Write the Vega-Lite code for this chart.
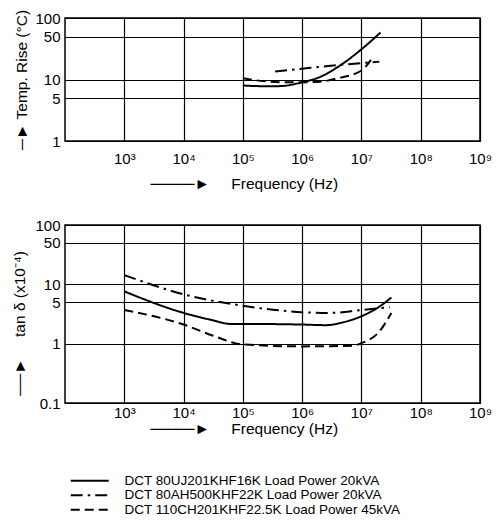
{
  "$schema": "https://vega.github.io/schema/vega-lite/v6.json",
  "background": "white",
  "padding": {"left": 12, "top": 8, "right": 10, "bottom": 5},
  "config": {
    "font": "Liberation Sans",
    "view": {"stroke": "black", "strokeWidth": 1.5},
    "axis": {
      "domain": false, "ticks": false, "grid": true, "gridColor": "black", "gridOpacity": 1, "gridWidth": 1.2,
      "labelFont": "Liberation Sans", "labelFontSize": 15, "labelColor": "black",
      "titleFont": "Liberation Sans", "titleFontSize": 15.5, "titleFontWeight": "normal", "titleColor": "black"
    },
    "legend": {"labelFont": "Liberation Sans", "labelFontSize": 13.5, "labelColor": "black"}
  },
  "datasets": {
    "temp": [
      {"series": "DCT 80UJ201KHF16K Load Power 20kVA", "f": 100000, "v": 8.0},
      {"series": "DCT 80UJ201KHF16K Load Power 20kVA", "f": 200000, "v": 7.8},
      {"series": "DCT 80UJ201KHF16K Load Power 20kVA", "f": 400000, "v": 7.8},
      {"series": "DCT 80UJ201KHF16K Load Power 20kVA", "f": 1000000, "v": 9},
      {"series": "DCT 80UJ201KHF16K Load Power 20kVA", "f": 2000000, "v": 11},
      {"series": "DCT 80UJ201KHF16K Load Power 20kVA", "f": 4000000, "v": 16},
      {"series": "DCT 80UJ201KHF16K Load Power 20kVA", "f": 6000000, "v": 21},
      {"series": "DCT 80UJ201KHF16K Load Power 20kVA", "f": 10000000, "v": 31},
      {"series": "DCT 80UJ201KHF16K Load Power 20kVA", "f": 21000000, "v": 58},
      {"series": "DCT 80AH500KHF22K Load Power 20kVA", "f": 350000, "v": 13.5},
      {"series": "DCT 80AH500KHF22K Load Power 20kVA", "f": 1000000, "v": 15},
      {"series": "DCT 80AH500KHF22K Load Power 20kVA", "f": 5000000, "v": 17.5},
      {"series": "DCT 80AH500KHF22K Load Power 20kVA", "f": 20000000, "v": 19.5},
      {"series": "DCT 110CH201KHF22.5K Load Power 45kVA", "f": 100000, "v": 10.5},
      {"series": "DCT 110CH201KHF22.5K Load Power 45kVA", "f": 200000, "v": 9.5},
      {"series": "DCT 110CH201KHF22.5K Load Power 45kVA", "f": 500000, "v": 9},
      {"series": "DCT 110CH201KHF22.5K Load Power 45kVA", "f": 1000000, "v": 9},
      {"series": "DCT 110CH201KHF22.5K Load Power 45kVA", "f": 2000000, "v": 9.2},
      {"series": "DCT 110CH201KHF22.5K Load Power 45kVA", "f": 4000000, "v": 10.5},
      {"series": "DCT 110CH201KHF22.5K Load Power 45kVA", "f": 10000000, "v": 14},
      {"series": "DCT 110CH201KHF22.5K Load Power 45kVA", "f": 16000000, "v": 24}
    ],
    "tan": [
      {"series": "DCT 80UJ201KHF16K Load Power 20kVA", "f": 1000, "v": 7.6},
      {"series": "DCT 80UJ201KHF16K Load Power 20kVA", "f": 10000, "v": 3.3},
      {"series": "DCT 80UJ201KHF16K Load Power 20kVA", "f": 30000, "v": 2.5},
      {"series": "DCT 80UJ201KHF16K Load Power 20kVA", "f": 63000, "v": 2.15},
      {"series": "DCT 80UJ201KHF16K Load Power 20kVA", "f": 100000, "v": 2.15},
      {"series": "DCT 80UJ201KHF16K Load Power 20kVA", "f": 1000000, "v": 2.1},
      {"series": "DCT 80UJ201KHF16K Load Power 20kVA", "f": 2500000, "v": 2.05},
      {"series": "DCT 80UJ201KHF16K Load Power 20kVA", "f": 5000000, "v": 2.3},
      {"series": "DCT 80UJ201KHF16K Load Power 20kVA", "f": 10000000, "v": 2.9},
      {"series": "DCT 80UJ201KHF16K Load Power 20kVA", "f": 20000000, "v": 4.2},
      {"series": "DCT 80UJ201KHF16K Load Power 20kVA", "f": 32000000, "v": 6.0},
      {"series": "DCT 80AH500KHF22K Load Power 20kVA", "f": 1000, "v": 14.3},
      {"series": "DCT 80AH500KHF22K Load Power 20kVA", "f": 10000, "v": 6.8},
      {"series": "DCT 80AH500KHF22K Load Power 20kVA", "f": 100000, "v": 4.35},
      {"series": "DCT 80AH500KHF22K Load Power 20kVA", "f": 1000000, "v": 3.4},
      {"series": "DCT 80AH500KHF22K Load Power 20kVA", "f": 3000000, "v": 3.3},
      {"series": "DCT 80AH500KHF22K Load Power 20kVA", "f": 10000000, "v": 3.7},
      {"series": "DCT 80AH500KHF22K Load Power 20kVA", "f": 30000000, "v": 4.1},
      {"series": "DCT 110CH201KHF22.5K Load Power 45kVA", "f": 1000, "v": 3.7},
      {"series": "DCT 110CH201KHF22.5K Load Power 45kVA", "f": 10000, "v": 2.1},
      {"series": "DCT 110CH201KHF22.5K Load Power 45kVA", "f": 31600, "v": 1.36},
      {"series": "DCT 110CH201KHF22.5K Load Power 45kVA", "f": 100000, "v": 0.97},
      {"series": "DCT 110CH201KHF22.5K Load Power 45kVA", "f": 1000000, "v": 0.9},
      {"series": "DCT 110CH201KHF22.5K Load Power 45kVA", "f": 7000000, "v": 0.92},
      {"series": "DCT 110CH201KHF22.5K Load Power 45kVA", "f": 10000000, "v": 1.02},
      {"series": "DCT 110CH201KHF22.5K Load Power 45kVA", "f": 20000000, "v": 1.6},
      {"series": "DCT 110CH201KHF22.5K Load Power 45kVA", "f": 32000000, "v": 3.3}
    ]
  },
  "spacing": 24,
  "vconcat": [
    {
      "width": 415, "height": 123,
      "data": {"name": "temp"},
      "mark": {"type": "line", "color": "black", "strokeWidth": 2, "interpolate": "monotone"},
      "encoding": {
        "x": {"field": "f", "type": "quantitative", "scale": {"type": "log", "domain": [100, 1000000000], "nice": false},
          "axis": {"values": [1000, 10000, 100000, 1000000, 10000000, 100000000, 1000000000],
            "labelExpr": "'10' + ['⁰','¹','²','³','⁴','⁵','⁶','⁷','⁸','⁹'][round(log(datum.value)/LN10)]",
            "labelPadding": 10, "labelFlush": false,
            "title": "────►\u00a0\u00a0\u00a0\u00a0\u00a0Frequency (Hz)", "titleAnchor": "start", "titleX": 85, "titleAlign": "left", "titlePadding": 10}},
        "y": {"field": "v", "type": "quantitative", "scale": {"type": "log", "domain": [1, 100], "nice": false},
          "axis": {"values": [1, 5, 10, 50, 100], "labelPadding": 5, "labelFlush": false, "title": "─►\u00a0Temp. Rise (°C)", "titlePadding": 5}},
        "strokeDash": {"field": "series", "type": "nominal",
          "scale": {"domain": ["DCT 80UJ201KHF16K Load Power 20kVA", "DCT 80AH500KHF22K Load Power 20kVA", "DCT 110CH201KHF22.5K Load Power 45kVA"],
            "range": [[1, 0], [12, 5, 2.5, 5], [9, 5]]},
          "legend": {"title": null, "orient": "none", "legendX": 18, "legendY": 456, "symbolType": "M-3.8,0H3.8", "symbolSize": 100, "symbolStrokeWidth": 2, "symbolStrokeColor": "black", "symbolFillColor": "transparent", "labelOffset": 28, "rowPadding": -0.5, "labelLimit": 0}}
      }
    },
    {
      "width": 415, "height": 178,
      "data": {"name": "tan"},
      "mark": {"type": "line", "color": "black", "strokeWidth": 2, "interpolate": "monotone"},
      "encoding": {
        "x": {"field": "f", "type": "quantitative", "scale": {"type": "log", "domain": [100, 1000000000], "nice": false},
          "axis": {"values": [1000, 10000, 100000, 1000000, 10000000, 100000000, 1000000000],
            "labelExpr": "'10' + ['⁰','¹','²','³','⁴','⁵','⁶','⁷','⁸','⁹'][round(log(datum.value)/LN10)]",
            "labelPadding": 2, "labelFlush": false,
            "title": "────►\u00a0\u00a0\u00a0\u00a0\u00a0Frequency (Hz)", "titleAnchor": "start", "titleX": 85, "titleAlign": "left", "titlePadding": 1}},
        "y": {"field": "v", "type": "quantitative", "scale": {"type": "log", "domain": [0.1, 100], "nice": false},
          "axis": {"values": [0.1, 1, 5, 10, 50, 100], "labelPadding": 5, "labelFlush": false, "title": "──►\u00a0\u00a0\u00a0\u00a0\u00a0tan δ (x10⁻⁴)", "titleY": 98, "titlePadding": 7}},
        "strokeDash": {"field": "series", "type": "nominal"}
      }
    }
  ]
}
